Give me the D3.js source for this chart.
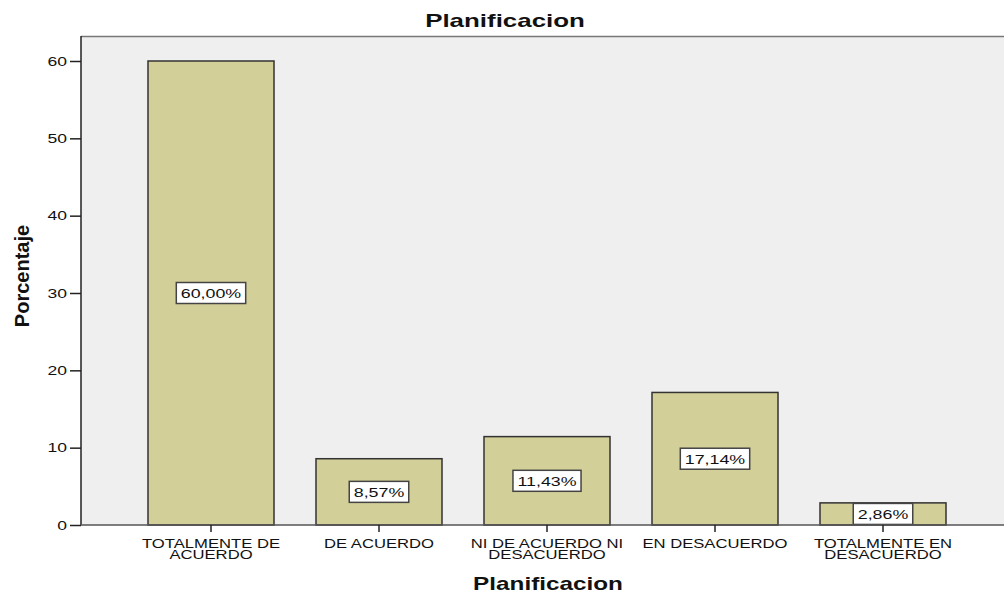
<!DOCTYPE html>
<html>
<head>
<meta charset="utf-8">
<script src="https://cdn.jsdelivr.net/npm/d3@7"></script>
<style>
  html, body { margin: 0; padding: 0; background: #fff; }
  svg { display: block; }
  text { font-family: Arial, "Liberation Sans", sans-serif; fill: #111; }
</style>
</head>
<body>
<svg id="chart" width="1004" height="594"></svg>
<script>
// Response categories (two-line axis labels split by "|")
const categories = [
  "TOTALMENTE DE|ACUERDO",
  "DE ACUERDO",
  "NI DE ACUERDO NI|DESACUERDO",
  "EN DESACUERDO",
  "TOTALMENTE EN|DESACUERDO"
];
const percentages = [60.00, 8.57, 11.43, 17.14, 2.86];
const valueLabels = ["60,00%", "8,57%", "11,43%", "17,14%", "2,86%"];
const yTicks = [0, 10, 20, 30, 40, 50, 60];

// horizontal stretch applied to the wide-set text
const WIDE = 1.28;

const svg = d3.select("#chart");
const plot = { left: 81, top: 36, right: 1004, bottom: 525 };

const x = d3.scaleBand()
  .domain(categories)
  .range([127, 967])
  .paddingInner(0.25)
  .paddingOuter(0.125);

const y = d3.scaleLinear()
  .domain([0, 60])
  .range([plot.bottom, 61]);

// plot background
svg.append("rect")
  .attr("x", plot.left).attr("y", plot.top)
  .attr("width", plot.right - plot.left)
  .attr("height", plot.bottom - plot.top)
  .attr("fill", "#efefef");

// top frame line
svg.append("line")
  .attr("x1", plot.left).attr("x2", plot.right)
  .attr("y1", plot.top + 0.5).attr("y2", plot.top + 0.5)
  .attr("stroke", "#777").attr("stroke-width", 1.5);

// bars
svg.append("g").selectAll("rect")
  .data(percentages)
  .join("rect")
  .attr("x", (d, i) => x(categories[i]))
  .attr("y", d => y(d))
  .attr("width", x.bandwidth())
  .attr("height", d => y(0) - y(d))
  .attr("fill", "#d3cf98")
  .attr("stroke", "#333")
  .attr("stroke-width", 1.5);

// value labels in boxes at bar midpoints
const lbl = svg.append("g").selectAll("g")
  .data(percentages)
  .join("g")
  .attr("transform", (d, i) =>
    `translate(${x(categories[i]) + x.bandwidth() / 2},${(y(d) + y(0)) / 2})`);

lbl.each(function (d, i) {
  const g = d3.select(this);
  const t = g.append("text")
    .attr("text-anchor", "middle")
    .attr("dy", "0.36em")
    .attr("font-size", 13.5)
    .attr("transform", `scale(${1.32},1)`)
    .text(valueLabels[i]);
  const w = t.node().getBBox().width * 1.32;
  g.insert("rect", "text")
    .attr("x", -w / 2 - 4.5).attr("y", -10.5)
    .attr("width", w + 9).attr("height", 21)
    .attr("fill", "#fff")
    .attr("stroke", "#444")
    .attr("stroke-width", 1.5);
});

// y axis
const yAxis = svg.append("g")
  .attr("transform", `translate(${plot.left},0)`)
  .call(d3.axisLeft(y).tickValues(yTicks).tickSize(11).tickPadding(3));
yAxis.select(".domain")
  .attr("d", `M0,${plot.top}V${plot.bottom}`)
  .attr("stroke", "#222").attr("stroke-width", 1.5);
yAxis.selectAll(".tick line").attr("stroke", "#222").attr("stroke-width", 1.5);
yAxis.selectAll(".tick text")
  .attr("x", 0)
  .attr("transform", `translate(-14,0) scale(${1.3},1)`)
  .attr("font-size", 13.5)
  .attr("font-family", "Arial, 'Liberation Sans', sans-serif")
  .attr("fill", "#111");

// x axis
const xAxis = svg.append("g")
  .attr("transform", `translate(0,${plot.bottom})`)
  .call(d3.axisBottom(x).tickSize(7).tickFormat(""));
xAxis.select(".domain")
  .attr("d", `M${plot.left},0H${plot.right}`)
  .attr("stroke", "#555").attr("stroke-width", 1.5);
xAxis.selectAll(".tick line").attr("stroke", "#222").attr("stroke-width", 1.5);
xAxis.selectAll(".tick").each(function (c) {
  const lines = c.split("|");
  const t = d3.select(this).append("text")
    .attr("text-anchor", "middle")
    .attr("font-size", 13)
    .attr("transform", `scale(${WIDE},1)`)
    .attr("fill", "#111");
  lines.forEach((s, k) => {
    t.append("tspan").attr("x", 0).attr("y", 23 + k * 11.5).text(s);
  });
});

// chart title
svg.append("text")
  .attr("transform", `translate(505,27) scale(${1.4},1)`)
  .attr("text-anchor", "middle")
  .attr("font-size", 18.5)
  .attr("font-weight", "bold")
  .text("Planificacion");

// x axis title
svg.append("text")
  .attr("transform", `translate(548,590) scale(${1.35},1)`)
  .attr("text-anchor", "middle")
  .attr("font-size", 18)
  .attr("font-weight", "bold")
  .text("Planificacion");

// y axis title
svg.append("text")
  .attr("transform", "translate(29,276) rotate(-90)")
  .attr("text-anchor", "middle")
  .attr("font-size", 20)
  .attr("font-weight", "bold")
  .text("Porcentaje");
</script>
</body>
</html>
